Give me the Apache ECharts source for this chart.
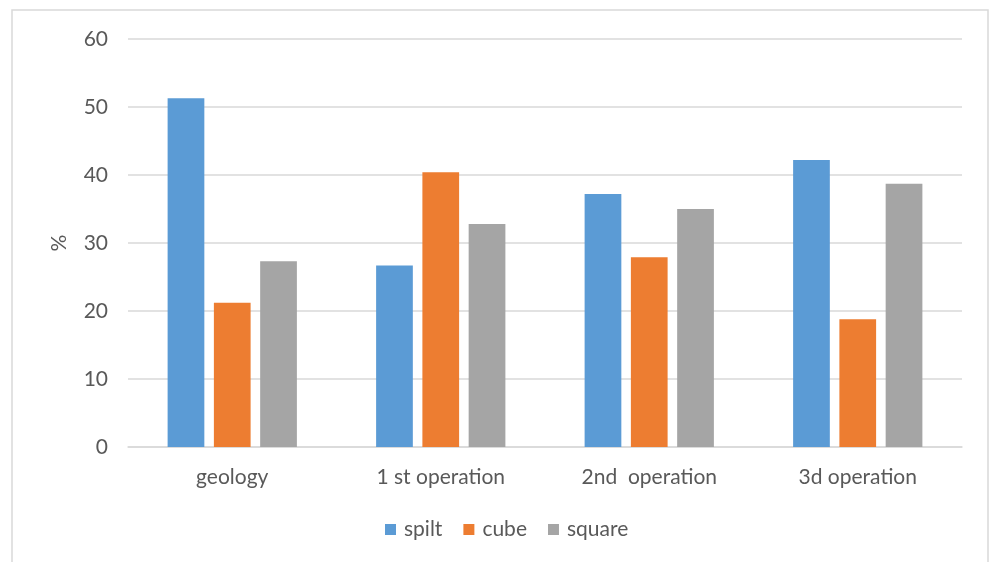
<!DOCTYPE html>
<html>
<head>
<meta charset="utf-8">
<script src="https://cdn.jsdelivr.net/npm/echarts@6/dist/echarts.min.js"></script>
<style>
  html, body { margin: 0; padding: 0; background: #fff; }
  #chart { width: 989px; height: 562px; }
</style>
</head>
<body>
<div id="chart"></div>
<script>
// Categories (stages) and the share of each fragment shape, in %
const categories = ['geology', '1 st operation', '2nd  operation', '3d operation'];
const spilt  = [51.3, 26.7, 37.2, 42.2];
const cube   = [21.2, 40.4, 27.9, 18.8];
const square = [27.3, 32.8, 35.0, 38.7];
const yTicks = { min: 0, max: 60, interval: 10 };

const FONT = 'Lato, "Liberation Sans", sans-serif';
const TEXT = '#595959';
const GRID = '#D9D9D9';

const chart = echarts.init(document.getElementById('chart'), null, { renderer: 'canvas' });

function barSeries(name, data, color) {
  return {
    name: name,
    type: 'bar',
    data: data,
    barGap: '26%',
    barCategoryGap: '38%',
    itemStyle: { color: color },
    emphasis: { disabled: true }
  };
}

chart.setOption({
  animation: false,
  textStyle: { fontFamily: FONT },
  graphic: [{
    type: 'rect',
    shape: { x: 12, y: 10, width: 976, height: 570 },
    style: { fill: 'none', stroke: GRID, lineWidth: 1.5 },
    silent: true
  }],
  grid: { left: 128, right: 27, top: 39, bottom: 115 },
  legend: {
    bottom: 17,
    left: 380,
    itemWidth: 11,
    itemHeight: 11,
    itemGap: 21,
    icon: 'rect',
    textStyle: { color: TEXT, fontSize: 21, fontFamily: FONT, padding: [0, 0, 0, 3] },
    data: ['spilt', 'cube', 'square']
  },
  xAxis: {
    type: 'category',
    data: categories,
    axisLine: { lineStyle: { color: GRID, width: 1.5 } },
    axisTick: { show: false },
    axisLabel: { color: TEXT, fontSize: 21, fontFamily: FONT, margin: 20 }
  },
  yAxis: {
    type: 'value',
    min: yTicks.min,
    max: yTicks.max,
    interval: yTicks.interval,
    name: '%',
    nameLocation: 'middle',
    nameGap: 58,
    nameRotate: 90,
    nameTextStyle: { color: TEXT, fontSize: 21, fontFamily: FONT },
    axisLine: { show: false },
    axisTick: { show: false },
    axisLabel: { color: TEXT, fontSize: 21, fontFamily: FONT, margin: 20 },
    splitLine: { lineStyle: { color: GRID, width: 1.5 } }
  },
  series: [
    barSeries('spilt', spilt, '#5B9BD5'),
    barSeries('cube', cube, '#ED7D31'),
    barSeries('square', square, '#A5A5A5')
  ]
});
</script>
</body>
</html>
